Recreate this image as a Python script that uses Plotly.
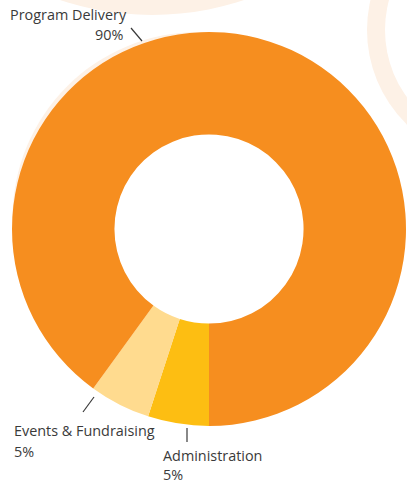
import plotly.graph_objects as go

categories = ["Program Delivery", "Events & Fundraising", "Administration"]
values = [90, 5, 5]
colors = ["#F68E1F", "#FFDB8F", "#FDBE12"]

W, H = 407, 483
CX, CY, R = 209, 229, 197
HOLE = 0.48


def px(x):
    return x / W


def py(y):
    return 1 - y / H


fig = go.Figure()
fig.add_trace(go.Pie(
    labels=categories[::-1], values=values[::-1], sort=False,
    direction="clockwise", rotation=180,
    hole=HOLE, marker=dict(colors=colors[::-1], line=dict(width=0)),
    textinfo="none", hoverinfo="label+percent", showlegend=False,
    domain=dict(x=[(CX - R) / W, (CX + R) / W], y=[(H - CY - R) / H, (H - CY + R) / H]),
))

peach = "#FDF1E6"


def circ(cx, cy, r, color):
    return dict(type="circle", xref="paper", yref="paper",
                x0=px(cx - r), x1=px(cx + r), y0=py(cy + r), y1=py(cy - r),
                fillcolor=color, line=dict(width=0), layer="below")


shapes = [
    circ(152, -275, 290, peach),
    circ(499, 30, 132, peach),
    circ(499, 30, 114, "white"),
    circ(CX - 10.5, CY - 11, R - 11, peach),
    circ(CX, CY, R * HOLE + 1, "white"),
]

# leader lines and label anchors (layout)
leaders = [((131, 28), (142, 41)), ((83, 412), (94, 397)), ((187, 428), (187, 442))]
label_pos = [(129, 15, "right"), (12, 430, "left"), (161, 455, "left")]
pct_pos = [(125, 34, "right"), (12, 451, "left"), (161, 474, "left")]

for (a, b) in leaders:
    shapes.append(dict(type="line", xref="paper", yref="paper",
                       x0=px(a[0]), y0=py(a[1]), x1=px(b[0]), y1=py(b[1]),
                       line=dict(color="#3a3a3a", width=1.2)))

total = sum(values)
font = dict(family="Open Sans", size=14.4, color="#3a3a3a")
annotations = []
for cat, v, lp, pp in zip(categories, values, label_pos, pct_pos):
    annotations.append(dict(x=px(lp[0]), y=py(lp[1]), xref="paper", yref="paper",
                            text=cat, showarrow=False,
                            xanchor=lp[2], yanchor="middle", font=font))
    annotations.append(dict(x=px(pp[0]), y=py(pp[1]), xref="paper", yref="paper",
                            text=f"{round(100 * v / total)}%", showarrow=False,
                            xanchor=pp[2], yanchor="middle", font=font))

fig.update_layout(
    width=W, height=H, margin=dict(l=0, r=0, t=0, b=0),
    paper_bgcolor="white", plot_bgcolor="rgba(0,0,0,0)",
    shapes=shapes, annotations=annotations,
)
fig.write_html("out.html")
